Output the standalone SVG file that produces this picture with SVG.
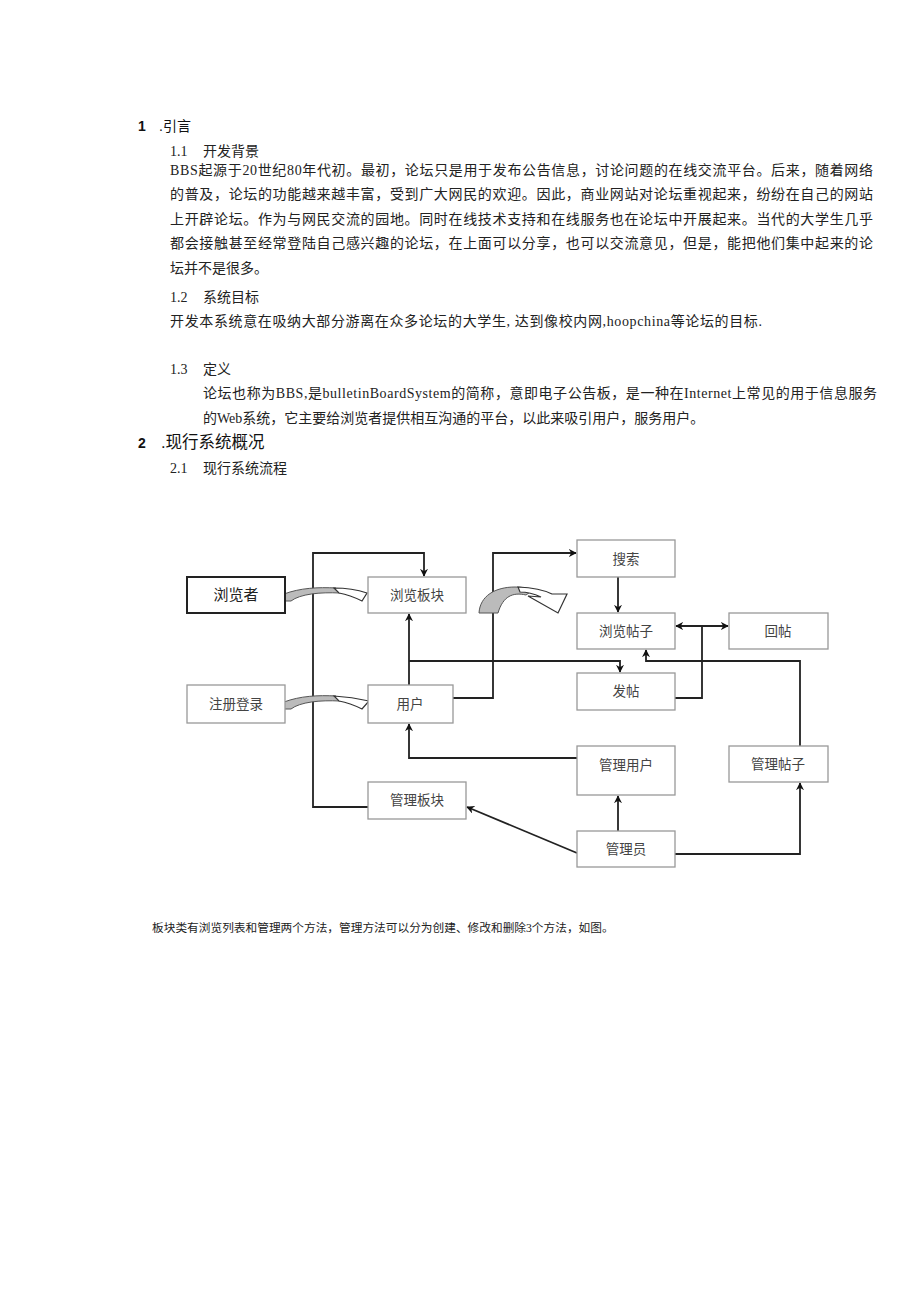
<svg xmlns="http://www.w3.org/2000/svg" width="920" height="1301" viewBox="0 0 920 1301">
<style>
.t{font-family:"Liberation Serif","Noto Sans CJK SC",serif;font-size:14px;fill:#222}
.h{font-family:"Liberation Sans","Noto Sans CJK SC",sans-serif;fill:#111}
.box{fill:#fff;stroke:#999;stroke-width:1.3}
.lbl{font-family:"Liberation Serif","Noto Sans CJK SC",serif;font-size:13.5px;fill:#444;text-anchor:middle;dominant-baseline:central}
.c{fill:none;stroke:#222;stroke-width:1.8}
</style>
<defs>
<marker id="ah" viewBox="0 0 10 10" refX="9" refY="5" markerWidth="8" markerHeight="8" orient="auto-start-reverse" markerUnits="userSpaceOnUse">
<path d="M0,0 L10,5 L0,10 L3,5 Z" fill="#111"/>
</marker>
</defs>
<rect width="920" height="1301" fill="#fff"/>

<g id="text">
<text class="h" x="138" y="131" font-size="14" font-weight="bold">1</text>
<text class="h" x="159" y="131" font-size="14">.引言</text>
<text class="t" x="170" y="156">1.1</text><text class="t" x="203" y="156">开发背景</text>
<text class="t" x="170" y="175" textLength="703" lengthAdjust="spacing">BBS起源于20世纪80年代初。最初，论坛只是用于发布公告信息，讨论问题的在线交流平台。后来，随着网络</text>
<text class="t" x="170" y="199" textLength="703" lengthAdjust="spacing">的普及，论坛的功能越来越丰富，受到广大网民的欢迎。因此，商业网站对论坛重视起来，纷纷在自己的网站</text>
<text class="t" x="170" y="224" textLength="703" lengthAdjust="spacing">上开辟论坛。作为与网民交流的园地。同时在线技术支持和在线服务也在论坛中开展起来。当代的大学生几乎</text>
<text class="t" x="170" y="248" textLength="703" lengthAdjust="spacing">都会接触甚至经常登陆自己感兴趣的论坛，在上面可以分享，也可以交流意见，但是，能把他们集中起来的论</text>
<text class="t" x="170" y="273">坛并不是很多。</text>
<text class="t" x="170" y="302">1.2</text><text class="t" x="203" y="302">系统目标</text>
<text class="t" x="170" y="326" textLength="592" lengthAdjust="spacing">开发本系统意在吸纳大部分游离在众多论坛的大学生, 达到像校内网,hoopchina等论坛的目标.</text>
<text class="t" x="170" y="374">1.3</text><text class="t" x="203" y="374">定义</text>
<text class="t" x="203" y="398" textLength="674" lengthAdjust="spacing">论坛也称为BBS,是bulletinBoardSystem的简称，意即电子公告板，是一种在Internet上常见的用于信息服务</text>
<text class="t" x="203" y="423">的Web系统，它主要给浏览者提供相互沟通的平台，以此来吸引用户，服务用户。</text>
<text class="h" x="138" y="448" font-size="14" font-weight="bold">2</text>
<text class="h" x="161" y="448" font-size="16.5">.现行系统概况</text>
<text class="t" x="170" y="473">2.1</text><text class="t" x="203" y="473">现行系统流程</text>
<text class="t" x="152" y="932" style="font-size:11.7px">板块类有浏览列表和管理两个方法，管理方法可以分为创建、修改和删除3个方法，如图。</text>
</g>

<g id="connectors">
<polyline class="c" points="368,807 313,807 313,553 424,553 424,576" marker-end="url(#ah)"/>
<polyline class="c" points="409,685 409,614" marker-end="url(#ah)"/>
<polyline class="c" points="409,661 620,661 620,672" marker-end="url(#ah)"/>
<polyline class="c" points="453,698 493,698 493,553 576,553" marker-end="url(#ah)"/>
<polyline class="c" points="618,577 618,612" marker-end="url(#ah)"/>
<polyline class="c" points="676,626 728,626" marker-start="url(#ah)" marker-end="url(#ah)"/>
<polyline class="c" points="675,698 702,698 702,626"/>
<polyline class="c" points="800,746 800,661 646,661 646,650" marker-end="url(#ah)"/>
<polyline class="c" points="577,758 409,758 409,724" marker-end="url(#ah)"/>
<polyline class="c" points="618,831 618,796" marker-end="url(#ah)"/>
<polyline class="c" points="675,854 800,854 800,783" marker-end="url(#ah)"/>
<polyline class="c" points="577,853 467,807" marker-end="url(#ah)"/>
</g>

<g id="curved-arrows">
<path d="M284,594 C300,588 318,587 336,588 L340,593 C320,592 300,594 291,601 L284,601 Z" fill="#bbb" stroke="#555" stroke-width="1"/>
<path d="M334,588 Q352,588 367,593 L362,601 Q350,595 339,593 Z" fill="#fff" stroke="#333" stroke-width="1.2"/>
<path d="M284,702 C300,696 318,695 336,696 L340,701 C320,700 300,702 291,709 L284,709 Z" fill="#bbb" stroke="#555" stroke-width="1"/>
<path d="M334,696 Q352,697 369,701 L362,709 Q350,703 339,701 Z" fill="#fff" stroke="#333" stroke-width="1.2"/>
<path d="M479,613 C480,596 495,587 515,587 C522,587 528,588 533,590 L526,595 C513,592 503,596 498,613 Z" fill="#bbb" stroke="#555" stroke-width="1"/>
<path d="M518,587 Q540,588 552,594 L567,594 L558,613 L528,596 L541,597 Q530,592 520,592 Z" fill="#fff" stroke="#333" stroke-width="1.2"/>
</g>

<g id="n-browser"><rect x="187" y="577" width="98" height="36" fill="#fff" stroke="#222" stroke-width="2"/><text class="lbl" x="236" y="595" style="fill:#222;font-size:15px">浏览者</text></g>
<g id="n-browse-board"><rect class="box" x="368" y="577" width="98" height="36"/><text class="lbl" x="417" y="595">浏览板块</text></g>
<g id="n-register"><rect class="box" x="187" y="685" width="98" height="38"/><text class="lbl" x="236" y="704">注册登录</text></g>
<g id="n-user"><rect class="box" x="368" y="685" width="85" height="38"/><text class="lbl" x="410" y="704">用户</text></g>
<g id="n-manage-board"><rect class="box" x="368" y="782" width="98" height="37"/><text class="lbl" x="417" y="800">管理板块</text></g>
<g id="n-search"><rect class="box" x="577" y="540" width="98" height="37"/><text class="lbl" x="626" y="559">搜索</text></g>
<g id="n-browse-post"><rect class="box" x="577" y="613" width="98" height="36"/><text class="lbl" x="626" y="631">浏览帖子</text></g>
<g id="n-reply"><rect class="box" x="729" y="613" width="99" height="36"/><text class="lbl" x="778" y="631">回帖</text></g>
<g id="n-post"><rect class="box" x="577" y="673" width="98" height="37"/><text class="lbl" x="626" y="691">发帖</text></g>
<g id="n-manage-user"><rect class="box" x="577" y="746" width="98" height="49"/><text class="lbl" x="626" y="765">管理用户</text></g>
<g id="n-manage-post"><rect class="box" x="729" y="746" width="99" height="36"/><text class="lbl" x="778" y="764">管理帖子</text></g>
<g id="n-admin"><rect class="box" x="577" y="831" width="98" height="36"/><text class="lbl" x="626" y="849">管理员</text></g>
</svg>
